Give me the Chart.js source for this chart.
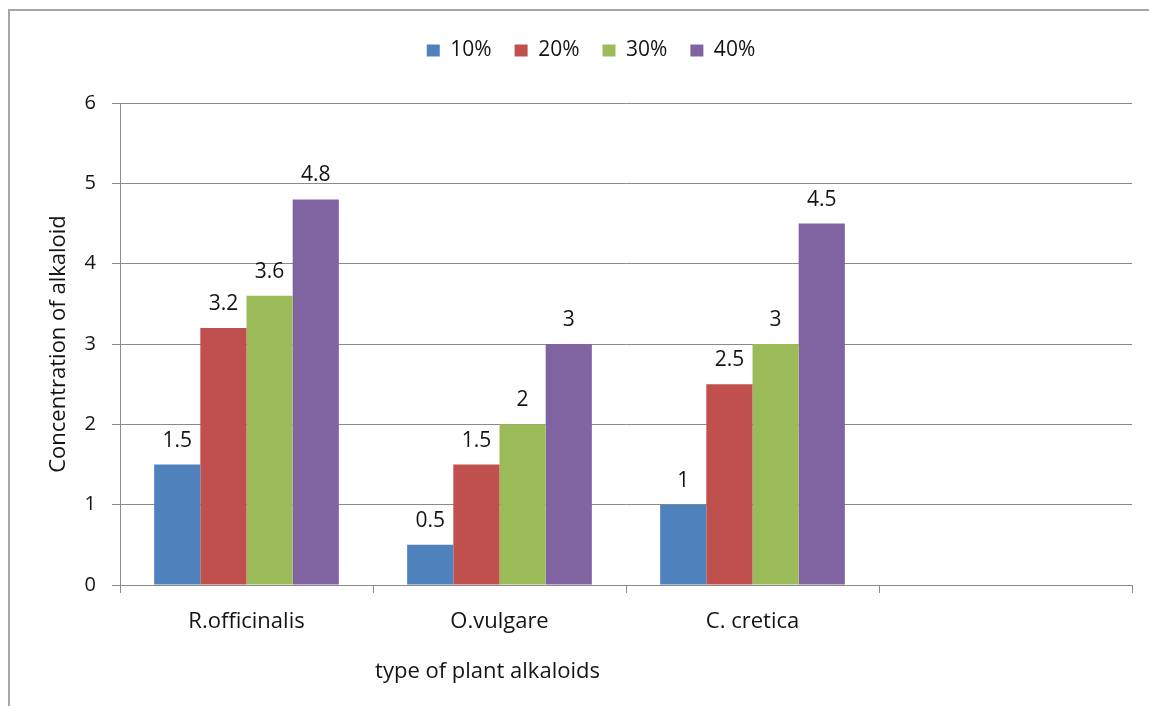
<!DOCTYPE html>
<html lang="en">
<head>
    <meta charset="UTF-8">
    <script src="https://cdn.jsdelivr.net/npm/chart.js@4.4.1/dist/chart.umd.min.js"></script>
    <title>Alkaloid concentration</title>
    <style>
        body { margin: 0; background: #fff; }
        #frame {
            position: absolute; left: 8px; top: 9px; width: 1200px; height: 800px;
            border-top: 2px solid #a6a6a6; border-left: 2px solid #a6a6a6;
        }
        #wrap { position: absolute; left: 0; top: 0; width: 1149px; height: 706px; }
    </style>
</head>
<body>
    <div id="frame"></div>
    <div id="wrap"><canvas id="chart"></canvas></div>

    <script>
        // plant extracts (last slot is left empty, as in the original sheet)
        const plants = ['R.officinalis', 'O.vulgare', 'C. cretica', ''];
        const seriesNames = ['10%', '20%', '30%', '40%'];
        const conc10 = [1.5, 0.5, 1, null];
        const conc20 = [3.2, 1.5, 2.5, null];
        const conc30 = [3.6, 2, 3, null];
        const conc40 = [4.8, 3, 4.5, null];
        const yTicks = [0, 1, 2, 3, 4, 5, 6];

        const colors = ['#4f81bd', '#c0504d', '#9bbb59', '#8064a2'];
        const FONT = '"Open Sans", "Noto Sans", sans-serif';
        const TEXT = '#141414';
        const gridGrey = '#8a8a8a';

        // value labels above each bar
        const valueLabels = {
            id: 'valueLabels',
            afterDatasetsDraw(chart) {
                const ctx = chart.ctx;
                ctx.save();
                ctx.font = '21px ' + FONT;
                ctx.fillStyle = TEXT;
                ctx.textAlign = 'center';
                ctx.textBaseline = 'alphabetic';
                chart.data.datasets.forEach((ds, i) => {
                    chart.getDatasetMeta(i).data.forEach((bar, j) => {
                        const v = ds.data[j];
                        if (v === null) return;
                        ctx.fillText(String(v), bar.x, bar.y - 18);
                    });
                });
                ctx.restore();
            }
        };

        // x axis title sits under the second category
        const xTitle = {
            id: 'xTitle',
            afterDraw(chart) {
                const ctx = chart.ctx;
                const x = chart.scales.x.getPixelForValue(1) - 12;
                ctx.save();
                ctx.font = '22px ' + FONT;
                ctx.fillStyle = TEXT;
                ctx.textAlign = 'center';
                ctx.textBaseline = 'middle';
                ctx.fillText('type of plant alkaloids', x, 672);
                ctx.restore();
            }
        };

        // extra room under the legend row, and nudge the row a little right
        const legendGap = {
            id: 'legendGap',
            beforeLayout(chart) {
                const lg = chart.legend;
                if (lg && !lg._gapAdded) {
                    const fit = lg.fit;
                    lg.fit = function () { fit.call(this); this.height += 32; };
                    lg._gapAdded = true;
                }
            },
            afterLayout(chart) {
                const lg = chart.legend;
                if (lg) { lg.left += 25; lg.right += 25; }
            }
        };

        const ctx = document.getElementById('chart').getContext('2d');
        new Chart(ctx, {
            type: 'bar',
            data: {
                labels: plants,
                datasets: [conc10, conc20, conc30, conc40].map((d, i) => ({
                    label: seriesNames[i],
                    data: d,
                    backgroundColor: colors[i],
                    borderWidth: 0
                }))
            },
            options: {
                responsive: true,
                maintainAspectRatio: false,
                animation: false,
                layout: { padding: { top: 17, right: 17, bottom: 0, left: 0 } },
                datasets: { bar: { barPercentage: 1, categoryPercentage: 0.73 } },
                plugins: {
                    legend: {
                        position: 'top',
                        labels: {
                            font: { family: FONT, size: 21 },
                            color: TEXT,
                            boxWidth: 13,
                            boxHeight: 12,
                            padding: 23
                        }
                    },
                    tooltip: { enabled: false }
                },
                scales: {
                    x: {
                        afterFit(scale) { scale.height = 121; },
                        grid: {
                            offset: true,
                            drawOnChartArea: false,
                            drawTicks: true,
                            tickLength: 8,
                            color: gridGrey
                        },
                        border: { color: gridGrey, width: 1 },
                        ticks: {
                            font: { family: FONT, size: 22 },
                            color: TEXT,
                            padding: 16
                        }
                    },
                    y: {
                        min: 0,
                        max: 6,
                        afterFit(scale) { scale.width = 120; },
                        afterBuildTicks(scale) { scale.ticks = yTicks.map(v => ({ value: v })); },
                        grid: { color: gridGrey, tickLength: 8 },
                        border: { color: gridGrey, width: 1 },
                        ticks: {
                            font: { family: FONT, size: 20 },
                            color: TEXT,
                            padding: 16
                        },
                        title: {
                            display: true,
                            text: 'Concentration of alkaloid',
                            font: { family: FONT, size: 22 },
                            color: TEXT,
                            padding: { top: 46, bottom: 0 }
                        }
                    }
                }
            },
            plugins: [valueLabels, xTitle, legendGap]
        });
    </script>
</body>
</html>
